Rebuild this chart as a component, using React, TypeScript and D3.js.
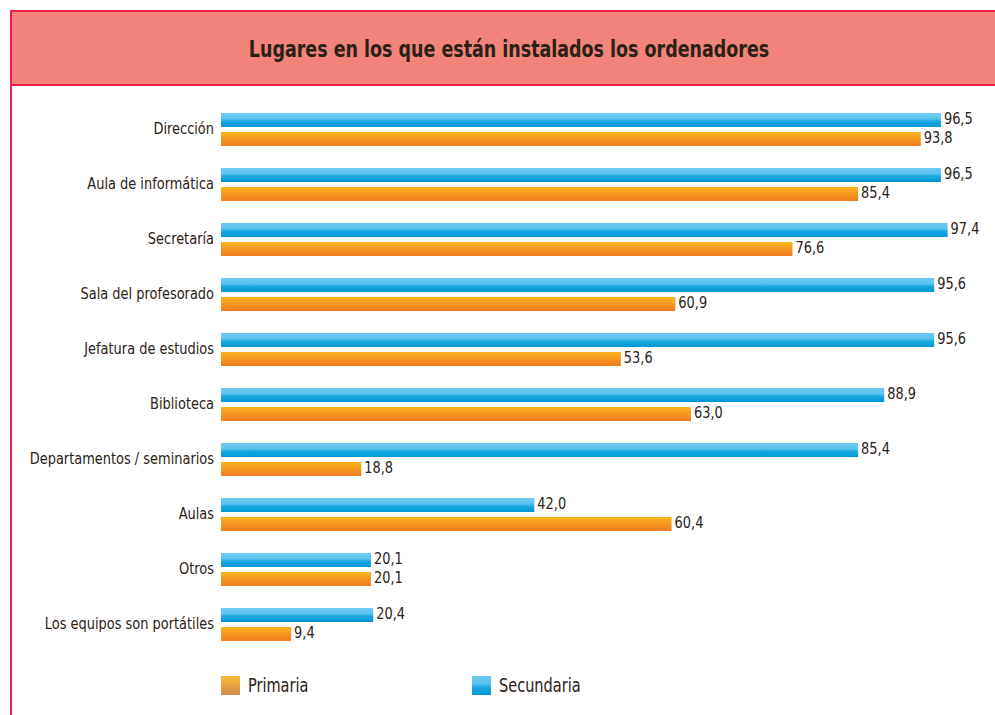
import * as d3 from 'd3';
import React from 'react';

// chart data
const categories = [
  'Dirección',
  'Aula de informática',
  'Secretaría',
  'Sala del profesorado',
  'Jefatura de estudios',
  'Biblioteca',
  'Departamentos / seminarios',
  'Aulas',
  'Otros',
  'Los equipos son portátiles',
];
const secundaria = [96.5, 96.5, 97.4, 95.6, 95.6, 88.9, 85.4, 42.0, 20.1, 20.4];
const primaria = [93.8, 85.4, 76.6, 60.9, 53.6, 63.0, 18.8, 60.4, 20.1, 9.4];
const seriesNames = ['Secundaria', 'Primaria'];
const legendNames = ['Primaria', 'Secundaria'];
const title = 'Lugares en los que están instalados los ordenadores';

const WIDTH = 995;
const HEIGHT = 715;
const FONT = "'DejaVu Sans Condensed', 'Liberation Sans Narrow', sans-serif";
const TEXT = '#2b2115';
const BORDER = '#e91e4e';

// narrow text: the original uses a condensed DIN-like face
const Label = ({ x, y, sx = 0.9, anchor = 'start', size = 16, weight = 'normal', children }: any) => (
  <text
    transform={`translate(${x},${y}) scale(${sx},1)`}
    dy="0.35em"
    textAnchor={anchor}
    fontSize={size}
    fontWeight={weight}
    fill={TEXT}
  >
    {children}
  </text>
);

const App = () => {
  const x = d3.scaleLinear().domain([0, 100]).range([221, 967]);
  const y0 = d3.scaleBand().domain(categories).range([102, 652]).paddingInner(0.4).paddingOuter(0.2);
  const y1 = d3.scaleBand().domain(seriesNames).range([0, y0.bandwidth()]).paddingInner(0.263);
  const fmt = (v: number) => d3.format('.1f')(v).replace('.', ',');

  const rows = categories.map((c, i) => ({
    cat: c,
    values: [
      { key: 'Secundaria', value: secundaria[i] },
      { key: 'Primaria', value: primaria[i] },
    ],
  }));
  const fillFor = (k: string) => (k === 'Secundaria' ? 'url(#gBlue)' : 'url(#gOrange)');

  return (
    <svg width={WIDTH} height={HEIGHT} style={{ position: 'absolute', left: 0, top: 0 }} fontFamily={FONT}>
      <defs>
        <linearGradient id="gBlue" x1="0" y1="0" x2="0" y2="1">
          <stop offset="0" stopColor="#6dcbf3" />
          <stop offset="0.4" stopColor="#5cc3ef" />
          <stop offset="0.6" stopColor="#1aa7e0" />
          <stop offset="1" stopColor="#0096d6" />
        </linearGradient>
        <linearGradient id="gOrange" x1="0" y1="0" x2="0" y2="1">
          <stop offset="0" stopColor="#fbb41f" />
          <stop offset="1" stopColor="#f07a22" />
        </linearGradient>
        <linearGradient id="gLegOrange" x1="0" y1="0" x2="0" y2="1">
          <stop offset="0" stopColor="#fcbb3a" />
          <stop offset="1" stopColor="#cf8a4a" />
        </linearGradient>
      </defs>

      {/* frame + header */}
      <rect x={0} y={0} width={WIDTH} height={HEIGHT} fill="#fff" />
      <rect x={11} y={11} width={WIDTH} height={74} fill="#f2847c" stroke={BORDER} strokeWidth={2} />
      <line x1={11} x2={11} y1={11} y2={HEIGHT} stroke={BORDER} strokeWidth={2} />
      <Label x={509} y={49} sx={0.845} anchor="middle" size={23} weight="bold">
        {title}
      </Label>

      {/* bars */}
      {rows.map((r) => (
        <g key={r.cat} transform={`translate(0,${y0(r.cat)})`}>
          <Label x={214} y={y0.bandwidth() / 2 - 1} anchor="end" size={16}>
            {r.cat}
          </Label>
          {r.values.map((d) => (
            <g key={d.key}>
              <rect
                x={x(0)}
                y={y1(d.key)}
                width={x(d.value) - x(0)}
                height={y1.bandwidth()}
                fill={fillFor(d.key)}
              />
              <Label x={x(d.value) + 3} y={(y1(d.key) as number) + y1.bandwidth() / 2 - 2} size={16}>
                {fmt(d.value)}
              </Label>
            </g>
          ))}
        </g>
      ))}

      {/* legend */}
      {legendNames.map((n, i) => {
        const lx = 221 + i * 251;
        return (
          <g key={n} transform={`translate(${lx},676)`}>
            <rect width={19} height={19} fill={n === 'Primaria' ? 'url(#gLegOrange)' : 'url(#gBlue)'} />
            <Label x={27} y={9} sx={0.85} size={19}>
              {n}
            </Label>
          </g>
        );
      })}
    </svg>
  );
};

export default App;
